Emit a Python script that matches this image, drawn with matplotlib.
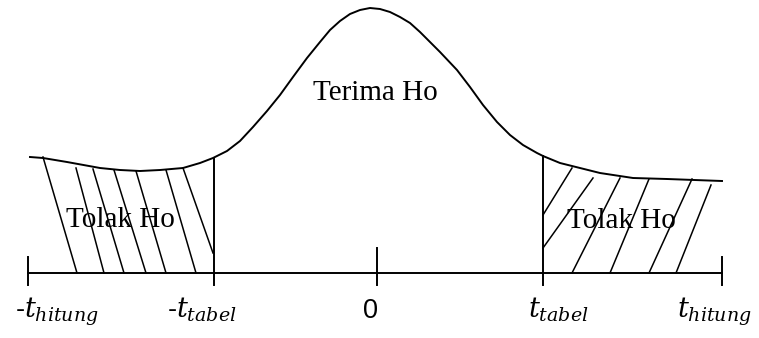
import matplotlib
matplotlib.use("Agg")

import matplotlib.pyplot as plt

# coordinates: x = distance from the centre of the axis, y = height above the axis line
# bell curve
curve_x = [-347, -334, -310, -277, -257, -237, -217, -194, -177, -164, -150, -137,
           -124, -110, -97, -84, -70, -57, -47, -37, -27, -17, -7, 3, 13, 23, 33,
           43, 53, 63, 80, 93, 106, 120, 133, 146, 160, 166, 183, 203, 223, 256,
           290, 345]
curve_y = [116, 115, 111, 105, 103, 102, 103, 105, 110, 115, 122, 132, 146, 162,
           178, 196, 215, 231, 243, 252, 259, 263, 265, 264, 261, 256, 250, 241,
           231, 221, 203, 186, 168, 151, 138, 128, 120, 117, 110, 105, 100, 95,
           94, 92]

# positions of the ticks on the t axis
tick_pos = [-349, -163, 0, 166, 345]
tick_labels = ["-$t_{hitung}$", "-$t_{tabel}$", "0", "$t_{tabel}$", "$t_{hitung}$"]
label_left = [-362, -210, -14, 151, 300]

# critical value lines (x, top of line)
crit_x = [-163, 166]
crit_top = [115, 117]

# hatch lines in the rejection regions: (x0, y0, x1, y1)
hatch_left = [(-334, 116, -300, 0), (-301, 105, -273, 0), (-284, 104, -253, 0),
              (-263, 103, -231, 0), (-241, 102, -211, 0), (-211, 103, -181, 0),
              (-194, 105, -164, 20)]
hatch_right = [(166, 58, 195, 105), (166, 25, 216, 95), (195, 0, 243, 95),
               (233, 0, 272, 94), (272, 0, 315, 94), (299, 0, 334, 88)]

plt.rcParams["mathtext.fontset"] = "dejavuserif"

fig = plt.figure(figsize=(7.59, 3.38), dpi=100)
ax = fig.add_axes([0, 0, 1, 1])
ax.set_xlim(-377, 382)
ax.set_ylim(-65, 273)
ax.axis("off")

lw = 1.4
ax.plot(curve_x, curve_y, color="black", lw=lw, solid_joinstyle="round")

# t axis
ax.plot([tick_pos[0], tick_pos[-1]], [0, 0], color="black", lw=lw)
ax.plot([tick_pos[0], tick_pos[0]], [-12, 16], color="black", lw=lw)
ax.plot([tick_pos[-1], tick_pos[-1]], [-12, 16], color="black", lw=lw)
ax.plot([tick_pos[2], tick_pos[2]], [-12, 25], color="black", lw=lw)
for x, top in zip(crit_x, crit_top):
    ax.plot([x, x], [-12, top], color="black", lw=lw)

for x0, y0, x1, y1 in hatch_left + hatch_right:
    ax.plot([x0, x1], [y0, y1], color="black", lw=1.1)

# region labels
ax.text(-2, 173, "Terima Ho", fontsize=21, family="Liberation Serif",
        ha="center", va="baseline")
ax.text(-257, 46, "Tolak Ho", fontsize=21, family="Liberation Serif",
        ha="center", va="baseline")
ax.text(244, 45, "Tolak Ho", fontsize=21, family="Liberation Serif",
        ha="center", va="baseline")

for x, lab in zip(label_left, tick_labels):
    ax.text(x, -45, lab, fontsize=19.5, family="Liberation Sans",
            ha="left", va="baseline")

fig.savefig("out.png", dpi=100)
